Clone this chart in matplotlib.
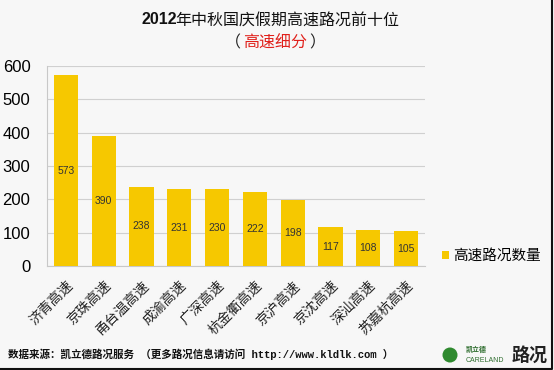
import matplotlib
matplotlib.use('Agg')
import matplotlib.pyplot as plt
from matplotlib.patches import Ellipse
from matplotlib.lines import Line2D

plt.rcParams['font.family'] = ['Noto Sans CJK SC', 'DejaVu Sans']

roads = ['济青高速', '京珠高速', '甬台温高速', '成渝高速', '广深高速',
         '杭金衢高速', '京沪高速', '京沈高速', '深汕高速', '苏嘉杭高速']
counts = [573, 390, 238, 231, 230, 222, 198, 117, 108, 105]
yticks = [0, 100, 200, 300, 400, 500, 600]

bg = '#f7f7f7'
bar_color = '#f6c800'
latin = ['Liberation Sans', 'DejaVu Sans']

fig = plt.figure(figsize=(5.54, 3.70), dpi=100, facecolor=bg)
ax = fig.add_axes([0.085, 0.281, 0.682, 0.5405], facecolor=bg)

x = list(range(len(roads)))
bars = ax.bar(x, counts, width=0.64, color=bar_color, zorder=3)
for xi, v in zip(x, counts):
    ax.text(xi, v / 2, str(v), ha='center', va='center', fontsize=7.5,
            color='#333333', family=latin, zorder=4)

ax.set_xlim(-0.5, len(roads) - 0.5)
ax.set_ylim(0, 600)
ax.set_yticks(yticks)
ax.set_yticklabels([str(t) for t in yticks], fontsize=12, family=latin)
ax.set_xticks(x)
ax.set_xticklabels(roads, rotation=45, ha='right', va='top', fontsize=10,
                   rotation_mode='anchor', color='#222222')
ax.tick_params(axis='y', length=0, pad=12)
ax.tick_params(axis='x', length=0, pad=9)
ax.grid(axis='y', color='#d0d0d0', linewidth=0.8, zorder=0)
for s in ['top', 'right']:
    ax.spines[s].set_visible(False)
ax.spines['left'].set_color('#c8c8c8')
ax.spines['bottom'].set_color('#c8c8c8')

fig.legend(handles=[bars], labels=['高速路况数量'], loc='center left',
           bbox_to_anchor=(0.775, 0.308), frameon=False, fontsize=10.5,
           handlelength=0.45, handleheight=0.45, handletextpad=0.3)

# title: bold year + regular text
fig.text(0.256, 0.946, '2012', ha='left', va='center', fontsize=11.5,
         fontweight='bold', color='#111111', family=latin)
fig.text(0.316, 0.946, '年中秋国庆假期高速路况前十位', ha='left', va='center',
         fontsize=11.5, color='#111111')
fig.text(0.434, 0.884, '（', ha='right', va='center', fontsize=11.5, color='#222222')
fig.text(0.496, 0.884, '高速细分', ha='center', va='center', fontsize=11.5, color='#e0201b')
fig.text(0.558, 0.884, '）', ha='left', va='center', fontsize=11.5, color='#222222')

fig.text(0.014, 0.043, '数据来源：凯立德路况服务 （更多路况信息请访问 http://www.kldlk.com ）',
         ha='left', va='center', fontsize=7.6, fontweight='bold', color='#111111',
         family=['Liberation Mono', 'Noto Sans CJK SC'])

# logo
fig.patches.append(Ellipse((450 / 554, 1 - 355 / 370), 15 / 554, 15 / 370,
                           transform=fig.transFigure, facecolor='#2f8a2f',
                           edgecolor='none'))
fig.text(466 / 554, 1 - 349 / 370, '凯立德', fontsize=5, color='#2f6e2f',
         va='center', ha='left', fontweight='bold')
fig.text(466 / 554, 1 - 361 / 370, 'CARELAND', fontsize=5, color='#2f6e2f',
         va='center', ha='left', family=latin)
fig.text(512 / 554, 1 - 355 / 370, '路况', fontsize=13, color='#222222',
         va='center', ha='left', fontweight='bold')

# frame lines at right and bottom
fig.lines.append(Line2D([0, 0.997, 0.997], [0.004, 0.004, 1],
                        transform=fig.transFigure, color='#111111', linewidth=1.5))

fig.savefig('out.png', dpi=100, facecolor=bg)
